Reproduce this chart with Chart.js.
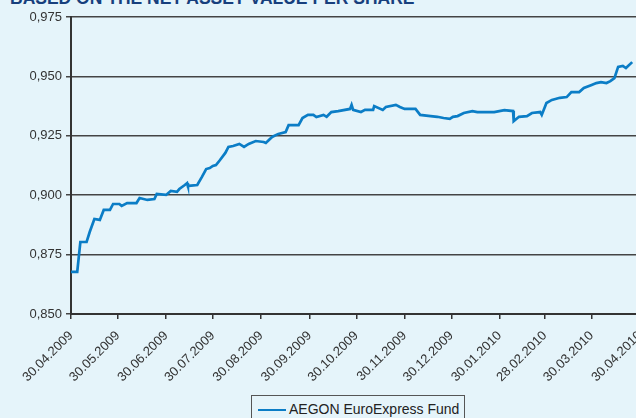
<!DOCTYPE html>
<html lang="en">
<head>
<meta charset="UTF-8">
<title>AEGON EuroExpress Fund</title>
<script src="https://cdn.jsdelivr.net/npm/chart.js"></script>
<style>
    body {
        margin: 0;
        width: 636px;
        height: 418px;
        overflow: hidden;
        background: #e5f4fa;
        font-family: 'Liberation Sans', Arial, sans-serif;
        position: relative;
    }
    .title {
        position: absolute;
        left: 10px;
        top: -11px;
        font-size: 17.5px;
        line-height: 18px;
        font-weight: bold;
        color: #173f7d;
        white-space: nowrap;
    }
    #chart {
        position: absolute;
        left: 0;
        top: 0;
    }
    .legend {
        position: absolute;
        left: 251px;
        top: 395px;
        width: 214px;
        height: 40px;
        border: 1px solid #555;
        box-sizing: border-box;
    }
    .legend .swatch {
        position: absolute;
        left: 6px;
        top: 13px;
        width: 28px;
        height: 2px;
        background: #0b7dc6;
    }
    .legend .label {
        position: absolute;
        left: 37px;
        top: 5px;
        font-size: 14px;
        color: #222;
        white-space: nowrap;
    }
</style>
</head>
<body>
    <div class="title">BASED ON THE NET ASSET VALUE PER SHARE</div>
    <canvas id="chart" width="660" height="395"></canvas>
    <div class="legend"><div class="swatch"></div><div class="label">AEGON EuroExpress Fund</div></div>

<script>
    // days since 30.04.2009 and net asset value per share
    const days = [0, 4, 5, 6, 10, 12, 15, 18.5, 21, 25, 27, 31, 32.5, 36, 42, 44, 49, 53.5, 55, 61,
        64, 68, 69.5, 73, 74.5, 75, 81, 84, 86.7, 89, 91, 93, 95.6, 99, 101, 104, 108, 111, 114, 118.5,
        123.6, 125, 129, 133, 137.7, 139.6, 146, 148.5, 152, 155.5, 157.4, 162, 164, 167, 171.4, 179, 180, 181, 186, 188.6,
        193.8, 194.5, 200, 202, 208.4, 211, 214, 221, 224, 230.7, 235, 239, 243, 245, 248, 252, 257.5, 260.7, 271.5, 278,
        283.6, 284, 287.4, 292.5, 295.7, 301, 302, 305, 308.5, 313.6, 318, 321, 326, 329, 334, 337, 340, 343.5, 346, 348.6,
        351, 354, 356, 360];
    const nav = [0.8677, 0.8677, 0.8740, 0.8803, 0.8803, 0.8845, 0.8900, 0.8896, 0.8938, 0.8938, 0.8963, 0.8963, 0.8955, 0.8967, 0.8967, 0.8988, 0.8980, 0.8984, 0.9005, 0.9001,
        0.9018, 0.9014, 0.9026, 0.9043, 0.9051, 0.9039, 0.9043, 0.9077, 0.9110, 0.9114, 0.9123, 0.9127, 0.9148, 0.9178, 0.9203, 0.9207, 0.9216, 0.9203, 0.9216, 0.9228,
        0.9224, 0.9220, 0.9245, 0.9258, 0.9266, 0.9295, 0.9295, 0.9325, 0.9338, 0.9338, 0.9329, 0.9338, 0.9330, 0.9350, 0.9354, 0.9363, 0.9380, 0.9359, 0.9350, 0.9359,
        0.9359, 0.9375, 0.9359, 0.9371, 0.9380, 0.9371, 0.9363, 0.9363, 0.9338, 0.9333, 0.9330, 0.9325, 0.9321, 0.9330, 0.9333, 0.9346, 0.9354, 0.9350, 0.9350, 0.9358,
        0.9354, 0.9312, 0.9330, 0.9333, 0.9346, 0.9350, 0.9338, 0.9388, 0.9401, 0.9410, 0.9413, 0.9434, 0.9434, 0.9451, 0.9464, 0.9472, 0.9476, 0.9472, 0.9480, 0.9493,
        0.9540, 0.9544, 0.9535, 0.9560];

    const tickDays = [0, 30, 61, 91, 122, 153, 183, 214, 244, 275, 304, 334, 365];
    const tickLabels = ['30.04.2009', '30.05.2009', '30.06.2009', '30.07.2009', '30.08.2009', '30.09.2009',
        '30.10.2009', '30.11.2009', '30.12.2009', '30.01.2010', '28.02.2010', '30.03.2010', '30.04.2010'];

    const font = { family: "'Liberation Sans', Arial, sans-serif", size: 13 };

    new Chart(document.getElementById('chart'), {
        type: 'line',
        data: {
            datasets: [{
                label: 'AEGON EuroExpress Fund',
                data: days.map((d, i) => ({ x: d, y: nav[i] })),
                borderColor: '#0b7dc6',
                borderWidth: 2.7,
                pointRadius: 0,
                tension: 0
            }]
        },
        options: {
            responsive: false,
            animation: false,
            layout: { padding: { top: 17, right: 16, left: 0, bottom: 0 } },
            plugins: {
                legend: { display: false },
                tooltip: { enabled: false }
            },
            scales: {
                x: {
                    type: 'linear',
                    min: 0,
                    max: 365,
                    afterBuildTicks: s => { s.ticks = tickDays.map(v => ({ value: v })); },
                    afterFit: s => { s.height = 81; },
                    ticks: {
                        autoSkip: false,
                        minRotation: 45,
                        maxRotation: 45,
                        color: '#333',
                        font: font,
                        padding: 9,
                        callback: v => tickLabels[tickDays.indexOf(v)]
                    },
                    grid: { drawOnChartArea: false, color: '#333', tickLength: 5, lineWidth: 1.5 },
                    border: { color: '#333', width: 2 }
                },
                y: {
                    min: 0.85,
                    max: 0.975,
                    afterFit: s => { s.width = 71; },
                    ticks: {
                        stepSize: 0.025,
                        color: '#333',
                        font: font,
                        padding: 4,
                        callback: v => v.toFixed(3).replace('.', ',')
                    },
                    grid: { color: '#444', lineWidth: 1.5, tickLength: 5 },
                    border: { color: '#333', width: 2 }
                }
            }
        }
    });
</script>
</body>
</html>
